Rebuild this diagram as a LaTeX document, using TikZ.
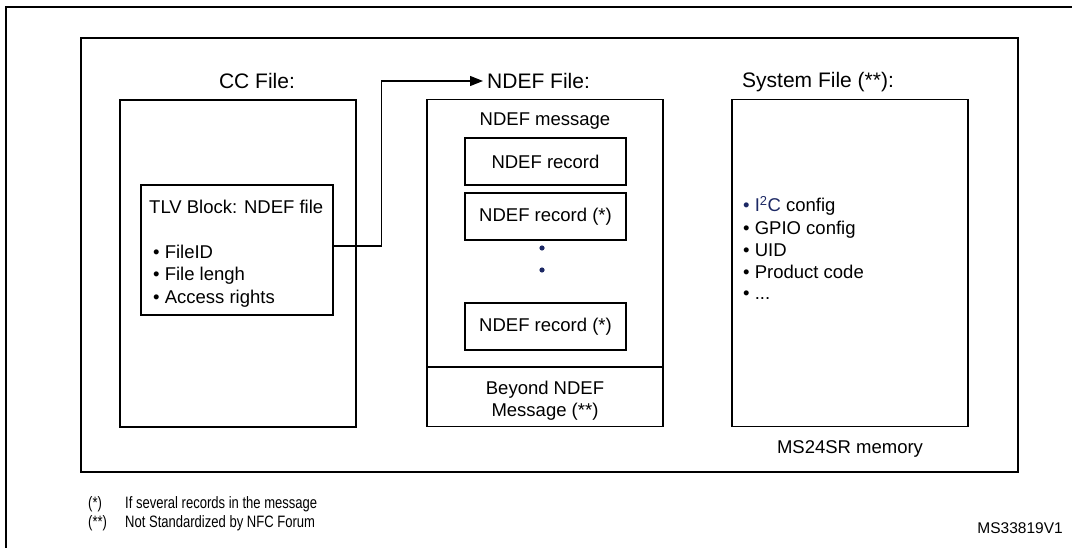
\documentclass[tikz,border=0pt]{standalone}
\usepackage{fontspec}
\setmainfont{Liberation Sans}
\newfontfamily\narrowfont[FakeStretch=0.79]{Liberation Sans}
\usetikzlibrary{arrows.meta}
\definecolor{dotblue}{RGB}{28,40,100}
\tikzset{
  boxline/.style={draw=black, line width=1.3pt},
  filebox/.style={boxline, minimum width=236pt, minimum height=327pt, inner sep=0pt},
  recbox/.style={boxline, minimum width=161pt, minimum height=47pt, inner sep=0pt, font=\fontsize{18.5}{22}\selectfont},
  lbl/.style={inner sep=0pt, font=\fontsize{21}{25}\selectfont},
  txt/.style={inner sep=0pt, font=\fontsize{18.5}{22}\selectfont},
  foot/.style={inner sep=0pt, font=\narrowfont\fontsize{16.5}{19}\selectfont},
  bluedot/.style={fill=dotblue, draw=none},
}
\begin{document}
\begin{tikzpicture}[x=1pt,y=-1pt]
\useasboundingbox (0,0) rectangle (1072,548);
% outer and inner frames
\draw[line width=2.2pt] (6,548) -- (6,7) -- (1072,7);
\draw[line width=1.6pt] (81,38) rectangle (1018,472);

% CC file
\node[lbl, anchor=base] (cclbl) at (257,89) {CC File:};
\node[filebox] (cc) at (238,263.5) {};
\node[boxline, minimum width=192pt, minimum height=130pt, inner sep=0pt] (tlv) at (237,250) {};
\node[txt, anchor=base west] (tlvt) at (149,213.6) {TLV Block: NDEF file};
\node[txt, anchor=base west] (tlv1) at (153,258.5) {• FileID};
\node[txt, anchor=base west] (tlv2) at (153,280.5) {• File lengh};
\node[txt, anchor=base west] (tlv3) at (153,303.5) {• Access rights};

% NDEF file
\node[lbl, anchor=west, inner xsep=4pt] (ndeflbl) at (483,81) {NDEF File:};
\node[filebox] (ndef) at (545,263) {};
\draw[boxline] (ndef.west |- 0,367) -- (ndef.east |- 0,367);
\node[txt, anchor=base] (msg) at (545,125.6) {NDEF message};
\node[recbox] (rec1) at (545.5,161.5) {NDEF record};
\node[recbox] (rec2) at (545.5,216.5) {NDEF record (*)};
\fill[bluedot] (542,248) circle (2.6pt);
\fill[bluedot] (542,270) circle (2.6pt);
\node[recbox] (rec3) at (545.5,326.5) {NDEF record (*)};
\node[txt, anchor=base] (bey1) at (545,394.6) {Beyond NDEF};
\node[txt, anchor=base] (bey2) at (545,416.6) {Message (**)};

% System file
\node[lbl, anchor=base west] (syslbl) at (742,88) {System File (**):};
\node[filebox] (sys) at (850,263) {};
\node[txt, anchor=base west] (s1) at (743,211.6) {\textcolor{dotblue}{• I\textsuperscript{2}C} config};
\node[txt, anchor=base west] (s2) at (743,234.6) {• GPIO config};
\node[txt, anchor=base west] (s3) at (743,256.6) {• UID};
\node[txt, anchor=base west] (s4) at (743,278.6) {• Product code};
\node[txt, anchor=base west] (s5) at (743,299.6) {• ...};
\node[txt, anchor=base] (mem) at (850,453.6) {MS24SR memory};

% connector
\draw[line width=1.3pt, -{Triangle[length=13pt,width=10pt]}]
  ([yshift=4pt]tlv.east) -- ++(48,0) |- (ndeflbl.west);

% footnotes
\node[foot, anchor=base west] (f1a) at (88,508.5) {(*)};
\node[foot, anchor=base west] (f1b) at (125,508.5) {If several records in the message};
\node[foot, anchor=base west] (f2a) at (88,527.5) {(**)};
\node[foot, anchor=base west] (f2b) at (125,527.5) {Not Standardized by NFC Forum};
\node[inner sep=0pt, font=\fontsize{15.5}{18}\selectfont, anchor=base east] (ms) at (1063,533.6) {MS33819V1};
\end{tikzpicture}
\end{document}
